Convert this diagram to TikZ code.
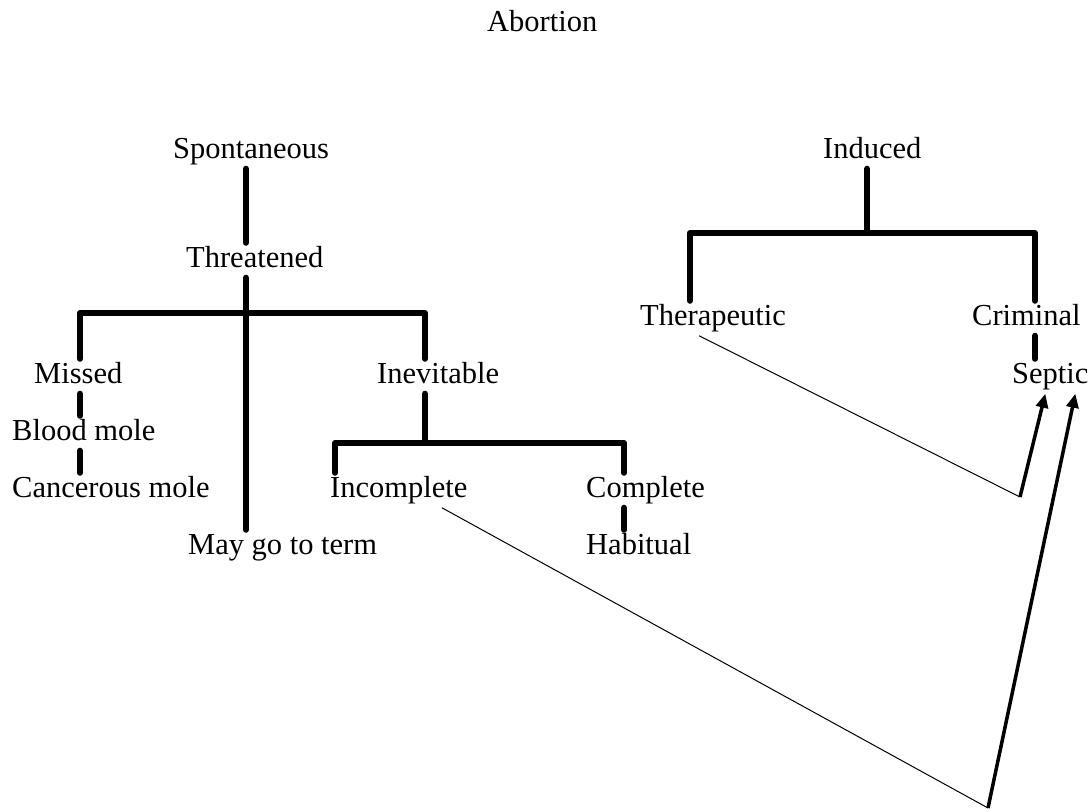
\documentclass[tikz,border=0pt]{standalone}
\usepackage{fontspec}
\setmainfont{Liberation Serif}
\usetikzlibrary{arrows.meta}
\tikzset{lbl/.style={anchor=base west,inner xsep=0pt,inner ysep=3pt,
  text height=21pt,text depth=7.5pt,font=\fontsize{30.5}{36}\selectfont},
bar/.style={line width=6pt,line cap=round,line join=round},
link/.style={line width=1pt},
up/.style={-{Triangle[length=14pt,width=12pt]},line width=3.5pt}}
\begin{document}
\begin{tikzpicture}[x=1pt,y=-1pt]
\useasboundingbox (0,0) rectangle (1092,811);
\node[lbl] (abort) at (487,31) {Abortion};
\node[lbl] (spont) at (173,158) {Spontaneous};
\node[lbl] (ind) at (823,158) {Induced};
\node[lbl] (threat) at (186,267) {Threatened};
\node[lbl] (ther) at (640,325) {Therapeutic};
\node[lbl] (crim) at (972,325) {Criminal};
\node[lbl] (missed) at (34,383) {Missed};
\node[lbl] (inev) at (377,383) {Inevitable};
\node[lbl] (sept) at (1012,383) {Septic};
\node[lbl] (blood) at (12,440) {Blood mole};
\node[lbl] (cancer) at (12,497) {Cancerous mole};
\node[lbl] (inc) at (330,497) {Incomplete};
\node[lbl] (comp) at (586,497) {Complete};
\node[lbl] (term) at (188,554) {May go to term};
\node[lbl] (hab) at (586,554) {Habitual};
\coordinate (sj) at (246,313);
\coordinate (mj) at (80,313);
\coordinate (vj) at (425,313);
\coordinate (ij) at (425,443);
\coordinate (incj) at (335,443);
\coordinate (compj) at (624,443);
\coordinate (dj) at (867,233);
\coordinate (thj) at (690,233);
\coordinate (crj) at (1035,233);
\coordinate (c1) at (1020,497);
\coordinate (c2) at (988,808);
\draw[bar] (spont.south -| sj) -- (threat.north -| sj);
\draw[bar] (threat.south -| sj) -- (term.north -| sj);
\draw[bar] (missed.north -| mj) -- (mj) -- (vj) -- (inev.north -| vj);
\draw[bar] (missed.south -| mj) -- (blood.north -| mj);
\draw[bar] (blood.south -| mj) -- (cancer.north -| mj);
\draw[bar] (inev.south -| ij) -- (ij);
\draw[bar] (inc.north -| incj) -- (incj) -- (compj) -- (comp.north -| compj);
\draw[bar] (comp.south -| compj) -- (hab.north -| compj);
\draw[bar] (ind.south -| dj) -- (dj);
\draw[bar] (ther.north -| thj) -- (thj) -- (crj) -- (crim.north -| crj);
\draw[bar] (crim.south -| crj) -- (sept.north -| crj);
\draw[link] ([xshift=-14pt]ther.south) -- (c1);
\draw[up] (c1) -- ([xshift=-5pt]sept.south);
\draw[link] ([xshift=43pt]inc.south) -- (c2);
\draw[up] (c2) -- ([xshift=25pt]sept.south);
\end{tikzpicture}
\end{document}
